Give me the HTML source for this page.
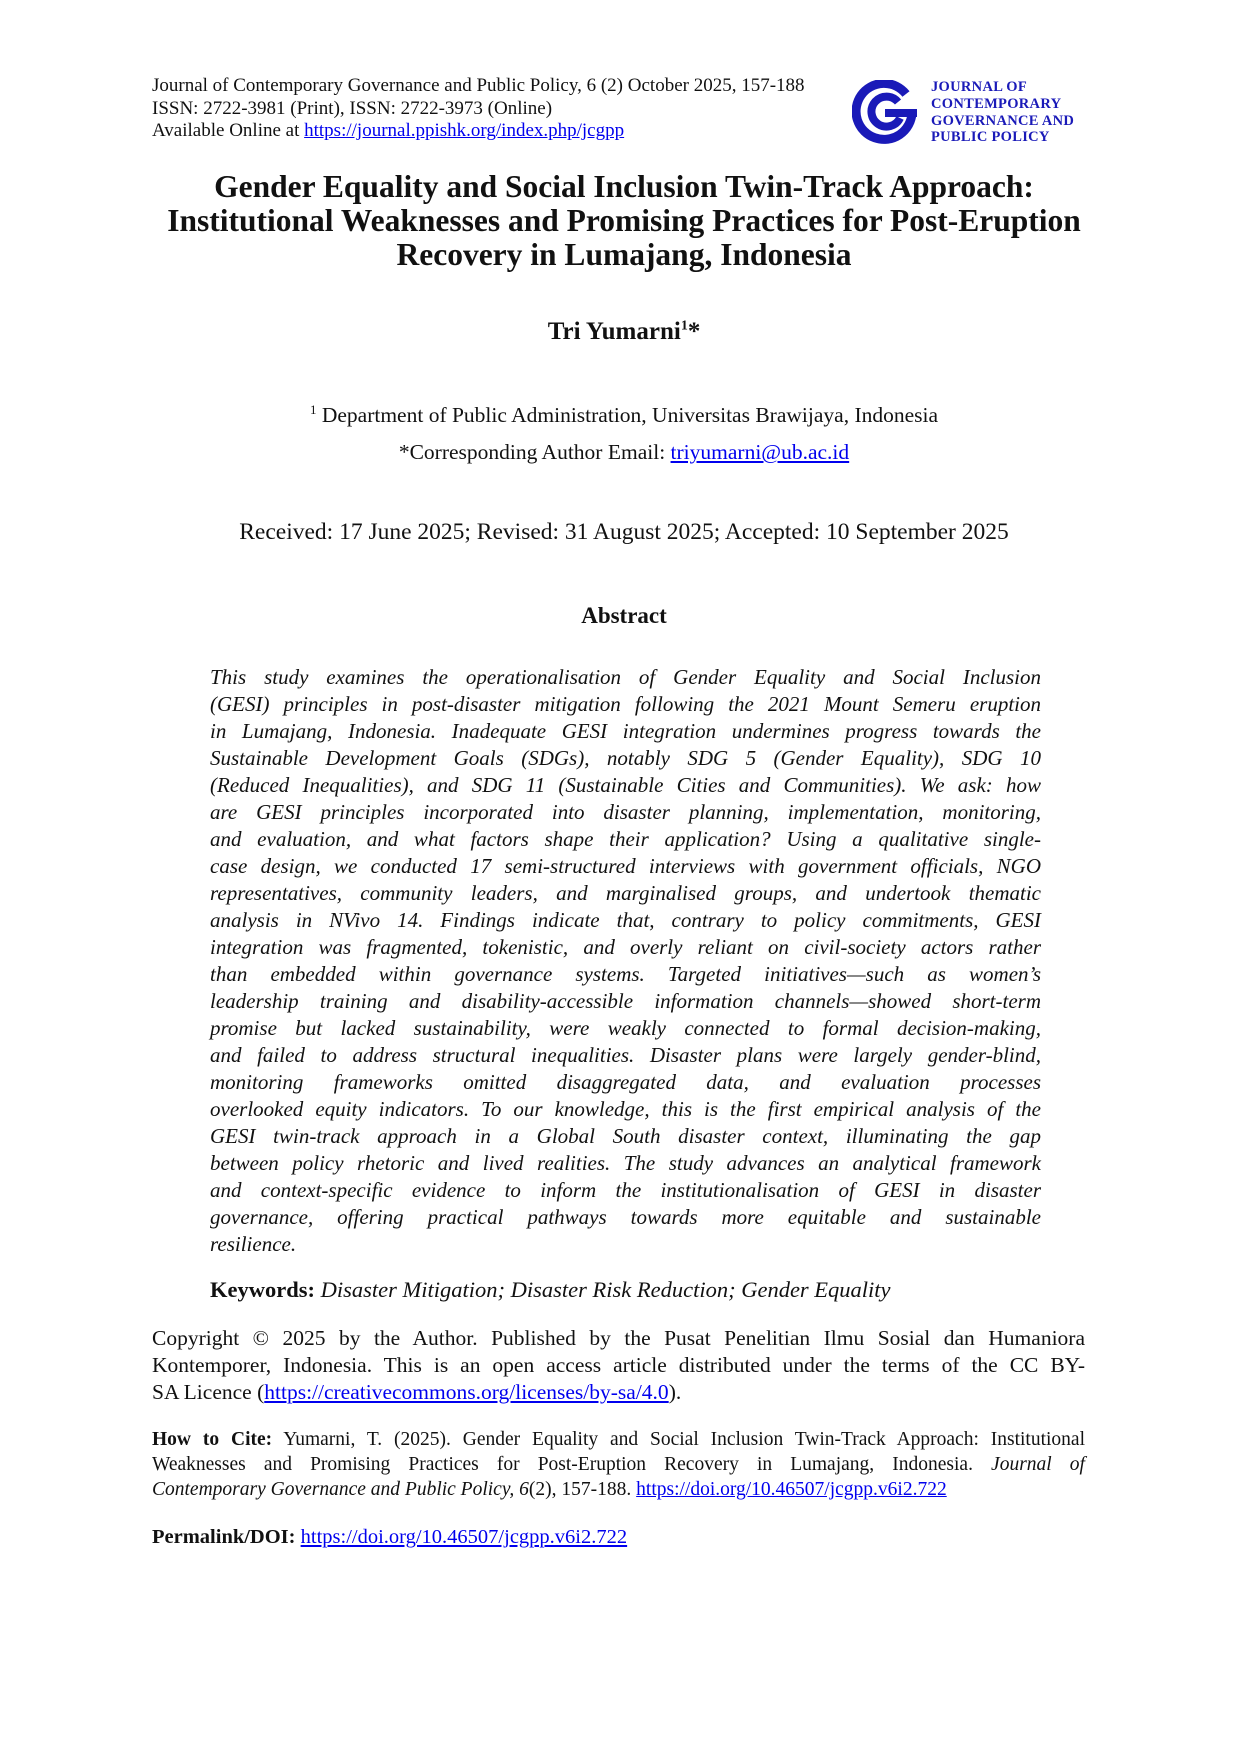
<!DOCTYPE html>
<html><head><meta charset="utf-8"><style>
body{margin:0;width:1240px;height:1754px;background:#fff;position:relative;font-family:"Liberation Serif",serif;color:#111}
.a{position:absolute;white-space:nowrap}
.j{position:absolute;left:210px;width:831px;font-style:italic;font-size:21px}
.j div{height:27px;line-height:27px;text-align:justify;text-align-last:justify}
.j div.l{text-align-last:left}
a{color:#00e;text-decoration:underline}
.c{position:absolute;left:152px;width:933px}
.c div{text-align:justify;text-align-last:justify;white-space:nowrap}
.c div.l{text-align-last:left}
</style></head><body>
<div class="a" style="left:152px;top:75px;font-size:19px;line-height:22.5px">Journal of Contemporary Governance and Public Policy, 6 (2) October 2025, 157-188<br>ISSN: 2722-3981 (Print), ISSN: 2722-3973 (Online)<br>Available Online at <a>https://journal.ppishk.org/index.php/jcgpp</a></div>
<svg class="a" style="left:852px;top:80px" width="70" height="66" viewBox="0 0 70 66">
<path d="M54 14 A28 28 0 1 0 60 33" fill="none" stroke="#1a1ab8" stroke-width="9"/>
<path d="M46 22 A15 15 0 1 0 48 38" fill="none" stroke="#1a1ab8" stroke-width="8"/>
<rect x="33" y="29" width="32" height="8" fill="#1a1ab8"/>
</svg>
<div class="a" style="left:931px;top:79px;font-size:14.5px;line-height:16.8px;color:#1a1ab8;font-weight:bold;letter-spacing:0.3px">JOURNAL OF<br>CONTEMPORARY<br>GOVERNANCE AND<br>PUBLIC POLICY</div>
<div class="a" style="left:0;width:1248px;top:170px;text-align:center;font-weight:bold;font-size:31.5px;line-height:34px">Gender Equality and Social Inclusion Twin-Track Approach:<br>Institutional Weaknesses and Promising Practices for Post-Eruption<br>Recovery in Lumajang, Indonesia</div>
<div class="a" style="left:0;width:1248px;top:318px;text-align:center;font-weight:bold;font-size:25px">Tri Yumarni<sup style="font-size:14px">1</sup>*</div>
<div class="a" style="left:0;width:1248px;top:391px;text-align:center;font-size:21.5px;line-height:37px"><sup style="font-size:13px">1</sup> Department of Public Administration, Universitas Brawijaya, Indonesia<br>*Corresponding Author Email: <a>triyumarni@ub.ac.id</a></div>
<div class="a" style="left:0;width:1248px;top:519px;text-align:center;font-size:23.5px">Received: 17 June 2025; Revised: 31 August 2025; Accepted: 10 September 2025</div>
<div class="a" style="left:0;width:1248px;top:603px;text-align:center;font-weight:bold;font-size:23px">Abstract</div>
<div class="j" style="top:664px">
<div>This study examines the operationalisation of Gender Equality and Social Inclusion</div>
<div>(GESI) principles in post-disaster mitigation following the 2021 Mount Semeru eruption</div>
<div>in Lumajang, Indonesia. Inadequate GESI integration undermines progress towards the</div>
<div>Sustainable Development Goals (SDGs), notably SDG 5 (Gender Equality), SDG 10</div>
<div>(Reduced Inequalities), and SDG 11 (Sustainable Cities and Communities). We ask: how</div>
<div>are GESI principles incorporated into disaster planning, implementation, monitoring,</div>
<div>and evaluation, and what factors shape their application? Using a qualitative single-</div>
<div>case design, we conducted 17 semi-structured interviews with government officials, NGO</div>
<div>representatives, community leaders, and marginalised groups, and undertook thematic</div>
<div>analysis in NVivo 14. Findings indicate that, contrary to policy commitments, GESI</div>
<div>integration was fragmented, tokenistic, and overly reliant on civil-society actors rather</div>
<div>than embedded within governance systems. Targeted initiatives—such as women’s</div>
<div>leadership training and disability-accessible information channels—showed short-term</div>
<div>promise but lacked sustainability, were weakly connected to formal decision-making,</div>
<div>and failed to address structural inequalities. Disaster plans were largely gender-blind,</div>
<div>monitoring frameworks omitted disaggregated data, and evaluation processes</div>
<div>overlooked equity indicators. To our knowledge, this is the first empirical analysis of the</div>
<div>GESI twin-track approach in a Global South disaster context, illuminating the gap</div>
<div>between policy rhetoric and lived realities. The study advances an analytical framework</div>
<div>and context-specific evidence to inform the institutionalisation of GESI in disaster</div>
<div>governance, offering practical pathways towards more equitable and sustainable</div>
<div class="l">resilience.</div>
</div>
<div class="a" style="left:210px;top:1277px;font-size:22.5px"><b>Keywords:</b> <i>Disaster Mitigation; Disaster Risk Reduction; Gender Equality</i></div>
<div class="c" style="top:1325px;font-size:21.5px;line-height:27px">
<div>Copyright © 2025 by the Author. Published by the Pusat Penelitian Ilmu Sosial dan Humaniora</div>
<div>Kontemporer, Indonesia. This is an open access article distributed under the terms of the CC BY-</div>
<div class="l">SA Licence (<a>https://creativecommons.org/licenses/by-sa/4.0</a>).</div>
</div>
<div class="c" style="top:1427px;font-size:19.5px;line-height:25px">
<div><b>How to Cite:</b> Yumarni, T. (2025). Gender Equality and Social Inclusion Twin-Track Approach: Institutional</div>
<div>Weaknesses and Promising Practices for Post-Eruption Recovery in Lumajang, Indonesia. <i>Journal of</i></div>
<div class="l"><i>Contemporary Governance and Public Policy, 6</i>(2), 157-188. <a>https://doi.org/10.46507/jcgpp.v6i2.722</a></div>
</div>
<div class="a" style="left:152px;top:1526px;font-size:20.5px"><b>Permalink/DOI:</b> <a>https://doi.org/10.46507/jcgpp.v6i2.722</a></div>
</body></html>
